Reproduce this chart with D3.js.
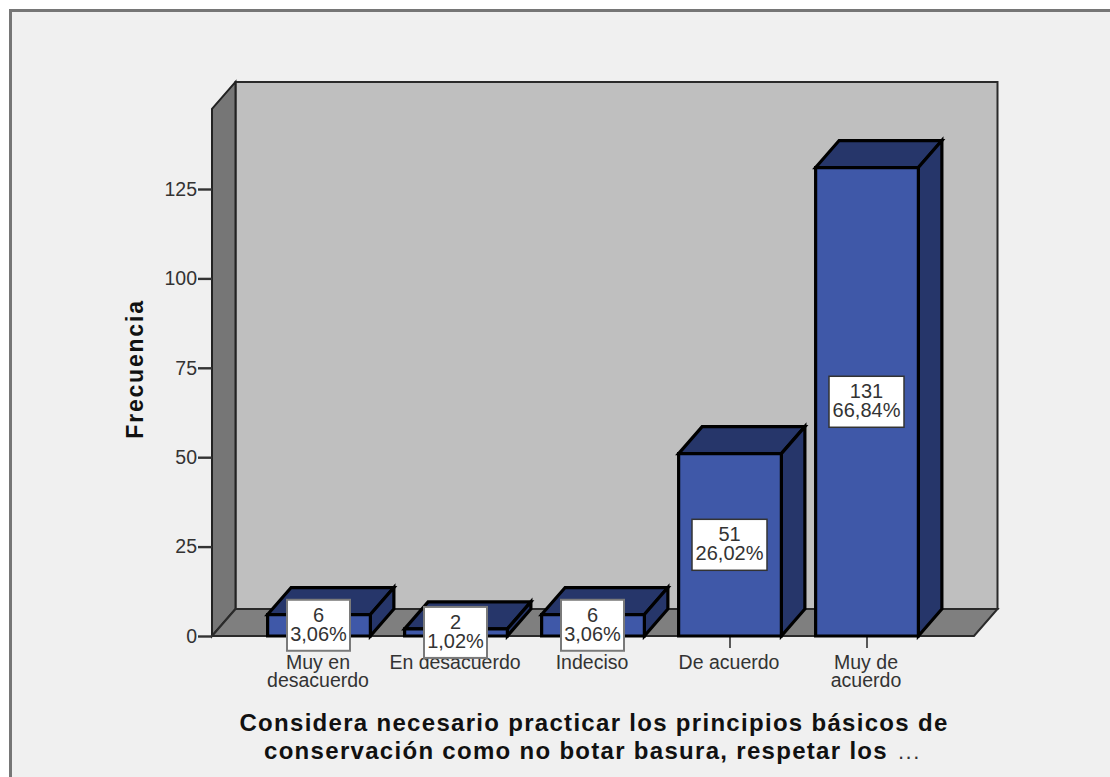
<!DOCTYPE html>
<html><head><meta charset="utf-8">
<script src="https://cdn.jsdelivr.net/npm/d3@7/dist/d3.min.js"></script>
<style>html,body{margin:0;padding:0;background:#fff;overflow:hidden}svg{display:block}text{font-family:"Liberation Sans",Arial,sans-serif}</style>
</head><body><div id="chart"></div>
<script>
const categories = ["Muy en desacuerdo","En desacuerdo","Indeciso","De acuerdo","Muy de acuerdo"];
const categoryLines = [["Muy en","desacuerdo"],["En desacuerdo"],["Indeciso"],["De acuerdo"],["Muy de","acuerdo"]];
const counts = [6,2,6,51,131];
const percents = ["3,06%","1,02%","3,06%","26,02%","66,84%"];
const yTicks = [0,25,50,75,100,125];
const yTitle = "Frecuencia";
const xTitle = ["Considera necesario practicar los principios básicos de","conservación como no botar basura, respetar los"];

const W=1110,H=777,depthX=23.5,depthY=27;
const svg=d3.select("#chart").append("svg").attr("width",W).attr("height",H);
svg.append("rect").attr("x",10.5).attr("y",10.5).attr("width",W+20).attr("height",H+20)
  .attr("fill","#f0f0f0").attr("stroke","#767676").attr("stroke-width",3);

const y=d3.scaleLinear().domain([0,125]).range([636,189]);
const x=d3.scaleBand().domain(categories).range([250.5,935.5]).paddingInner(.25).paddingOuter(.125);
const xL=212,xR=974,y0=y(0),yT=y(147.4);
const line=d3.line();
const poly=(pts,fill,stroke,sw)=>svg.append("path").attr("d",line(pts)+"Z").attr("fill",fill).attr("stroke",stroke).attr("stroke-width",sw).attr("stroke-linejoin","miter");

// walls
poly([[xL+depthX,yT-depthY],[xR+depthX,yT-depthY],[xR+depthX,y0-depthY],[xL+depthX,y0-depthY]],"#bfbfbf","#2a2a2a",2);
poly([[xL,yT],[xL+depthX,yT-depthY],[xL+depthX,y0-depthY],[xL,y0]],"#767676","#222",2);
poly([[xL,y0],[xL+depthX,y0-depthY],[xR+depthX,y0-depthY],[xR,y0]],"#7f7f7f","#2a2a2a",2);

// axes
const ax=svg.append("g").attr("transform",`translate(${xL},0)`).call(d3.axisLeft(y).tickValues(yTicks).tickSize(14).tickPadding(1).tickSizeOuter(0));
ax.select(".domain").remove();
ax.selectAll("line").attr("stroke","#333").attr("stroke-width",2.4);
ax.selectAll("text").attr("font-size",19.5).attr("fill","#333").style("font-family","Liberation Sans");
const bx=svg.append("g").attr("transform",`translate(0,${y0})`).call(d3.axisBottom(x).tickSize(12).tickSizeOuter(0));
bx.select(".domain").remove();
bx.selectAll("line").attr("stroke","#333").attr("stroke-width",1.6);
bx.selectAll("text").remove();
bx.selectAll(".tick").each(function(d,i){
  const t=d3.select(this).append("text").attr("text-anchor","middle").attr("font-size",19.5).attr("fill","#333");
  categoryLines[i].forEach((s,j)=>t.append("tspan").attr("x",-1).attr("y",33+j*17.5).text(s));
});

// bars
categories.forEach((c,i)=>{
  const a=x(c),b=a+x.bandwidth(),t=y(counts[i]);
  poly([[a,t],[a+depthX,t-depthY],[b+depthX,t-depthY],[b,t]],"#26366a","#000",3.2);
  poly([[b,t],[b+depthX,t-depthY],[b+depthX,y0-depthY],[b,y0]],"#26366a","#000",3.2);
  poly([[a,t],[b,t],[b,y0],[a,y0]],"#3f58a8","#000",3.2);
});

// value labels
categories.forEach((c,i)=>{
  const cx=x(c)+x.bandwidth()/2-.5,cy=y(counts[i]/2);
  const small=counts[i]<10;
  const w=percents[i].length>5?75:63;
  svg.append("rect").attr("x",cx-w/2).attr("y",cy-25.5).attr("width",w).attr("height",51)
    .attr("fill","#fff").attr("stroke",small?"#7a7a7a":"#333").attr("stroke-width",small?2:1.5);
  svg.append("text").attr("x",cx).attr("y",cy-3.5).attr("text-anchor","middle").attr("font-size",20).attr("fill","#333").text(counts[i]);
  svg.append("text").attr("x",cx).attr("y",cy+15.5).attr("text-anchor","middle").attr("font-size",20).attr("fill","#333").text(percents[i]);
});

// titles
svg.append("text").attr("transform","translate(143,369) rotate(-90)").attr("text-anchor","middle")
  .attr("font-size",23).attr("font-weight","bold").attr("letter-spacing",1.8).attr("fill","#111").text(yTitle);
const tl=svg.append("g").attr("font-size",24).attr("font-weight","bold").attr("letter-spacing",1.3).attr("fill","#111");
tl.append("text").attr("x",594).attr("y",731).attr("text-anchor","middle").text(xTitle[0]);
tl.append("text").attr("x",576).attr("y",759).attr("text-anchor","middle").text(xTitle[1]);
svg.append("text").attr("x",898).attr("y",759).attr("font-size",22).attr("letter-spacing",1.5).attr("fill","#333").text("...");
</script></body></html>
